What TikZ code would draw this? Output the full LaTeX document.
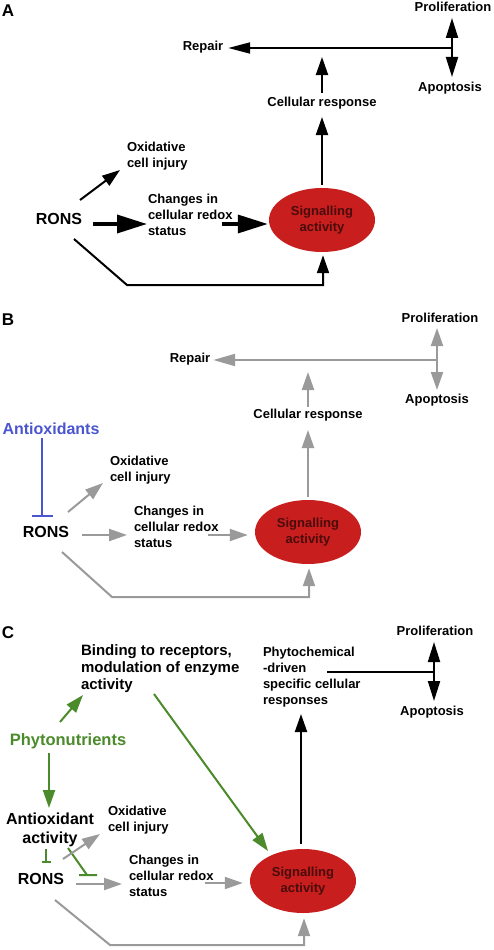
\documentclass[tikz,border=0pt]{standalone}
\usepackage{fontspec}
\setmainfont{Liberation Sans}
\usetikzlibrary{arrows.meta,calc,shapes.geometric}
\definecolor{sred}{HTML}{C81E1E}
\definecolor{sdark}{HTML}{4A0C0C}
\definecolor{sgray}{HTML}{9A9A9A}
\definecolor{sgreen}{HTML}{4B8B2B}
\definecolor{sblue}{HTML}{4B55D0}
\begin{document}
\begin{tikzpicture}[x=1pt,y=-1pt,
  txt/.style={inner sep=0pt, outer sep=0pt, font=\fontsize{13}{16}\selectfont\bfseries, align=left},
  big/.style={inner sep=0pt, outer sep=0pt, font=\fontsize{16}{19}\selectfont\bfseries, align=center},
  panel/.style={inner sep=0pt, font=\fontsize{17}{20}\selectfont\bfseries},
  sig/.style={ellipse, fill=sred, minimum width=106pt, minimum height=64pt, inner sep=0pt, text=sdark, font=\fontsize{13}{16}\selectfont\bfseries, align=center},
  blk/.style={draw=black, line width=2pt, -{Triangle[length=18pt,width=12pt]}},
  blkpa/.style={draw=black, line width=2pt, -{Triangle[length=20pt,width=12pt]}},
  blkthick/.style={draw=black, line width=3.5pt, -{Triangle[length=30pt,width=18pt]}},
  gry/.style={draw=sgray, line width=2pt, -{Triangle[length=18pt,width=12pt]}},
  grn/.style={draw=sgreen, line width=2pt, -{Triangle[length=18pt,width=12pt]}}
]
\useasboundingbox[fill=white] (0,0) rectangle (493,950);

% ---------------- Panel A ----------------
\node[panel] (lA) at (8,11) {A};
\node[big] (rA) at (59,219) {RONS};
\node[txt, anchor=west] (oxA) at (127,156) {Oxidative\\cell injury};
\node[txt, anchor=west] (chA) at (148,215) {Changes in\\cellular redox\\status};
\node[sig] (sA) at (322,220) {Signalling\\activity};
\node[txt] (crA) at (322,103) {Cellular response};
\node[txt] (repA) at (203,47) {Repair};
\node[txt] (prA) at (453,7) {Proliferation};
\node[txt] (apA) at (450,88) {Apoptosis};
\coordinate (jA) at (452,48);
\coordinate (cA) at (127,285);

\draw[blk] ($(rA)+(21,-19)$) -- ($(oxA.west)+(-7,14)$);
\draw[blkthick] ($(rA)+(34,5)$) -- ($(chA.west)+(-1,9)$);
\draw[blkthick] ($(chA.west)+(74,9)$) -- ($(sA.west)+(-1,4)$);
\draw[blk] ($(sA.north)+(0,-3)$) -- ($(crA)+(0,14)$);
\draw[blk] ($(crA)+(0,-10)$) -- ($(crA)+(0,-46)$);
\draw[draw=black, line width=2pt, -{Triangle[length=22pt,width=11pt]}] (jA) -- ($(repA.east)+(5,1)$);
\draw[blkpa] (jA) -- ($(prA)+(-1,11)$);
\draw[blkpa] (jA) -- ($(apA)+(2,-11)$);
\draw[blk] ($(rA)+(15,20)$) -- (cA) -| ($(sA.south)+(1,3)$);

% ---------------- Panel B ----------------
\node[panel] (lB) at (8,320) {B};
\node[big, text=sblue] (antiB) at (51,429) {Antioxidants};
\node[big] (rB) at (46,532) {RONS};
\node[txt, anchor=west] (oxB) at (110,470) {Oxidative\\cell injury};
\node[txt, anchor=west] (chB) at (134,527) {Changes in\\cellular redox\\status};
\node[sig] (sB) at (308,532) {Signalling\\activity};
\node[txt] (crB) at (308,415) {Cellular response};
\node[txt] (repB) at (190,359) {Repair};
\node[txt] (prB) at (440,318) {Proliferation};
\node[txt] (apB) at (437,400) {Apoptosis};
\coordinate (jB) at (437,360);
\coordinate (cB) at (112,597);

\draw[draw=sblue, line width=2pt, -{Bar[width=21pt]}] ($(antiB)+(-9,9)$) -- ($(rB)+(-4,-15)$);
\draw[gry] ($(rB)+(22,-20)$) -- ($(oxB.west)+(-7,13)$);
\draw[gry] ($(rB)+(36,3)$) -- ($(chB.west)+(-7,8)$);
\draw[gry] ($(chB.west)+(74,8)$) -- ($(sB.west)+(-7,3)$);
\draw[gry] ($(sB.north)+(0,-3)$) -- ($(crB)+(0,15)$);
\draw[gry] ($(crB)+(0,-8)$) -- ($(crB)+(0,-43)$);
\draw[draw=sgray, line width=2pt, -{Triangle[length=22pt,width=12pt]}] (jB) -- ($(repB.east)+(3,1)$);
\draw[gry] (jB) -- ($(prB)+(-3,10)$);
\draw[gry] (jB) -- ($(apB)+(0,-10)$);
\draw[gry] ($(rB)+(16,20)$) -- (cB) -| ($(sB.south)+(1,4)$);

% ---------------- Panel C ----------------
\node[panel] (lC) at (8,633) {C};
\node[txt, font=\fontsize{15}{17}\selectfont\bfseries, anchor=west] (bindC) at (81,669) {Binding to receptors,\\modulation of enzyme\\activity};
\node[big, text=sgreen, font=\fontsize{16.5}{19}\selectfont\bfseries] (phyC) at (68,741) {Phytonutrients};
\node[big] (antC) at (50,830) {Antioxidant\\activity};
\node[big] (rC) at (41,879) {RONS};
\node[txt, anchor=west] (oxC) at (108,820) {Oxidative\\cell injury};
\node[txt, anchor=west] (chC) at (129,876) {Changes in\\cellular redox\\status};
\node[sig] (sC) at (303,881) {Signalling\\activity};
\node[txt, anchor=west] (phyD) at (263,677) {Phytochemical\\-driven\\specific cellular\\responses};
\node[txt] (prC) at (435,631) {Proliferation};
\node[txt] (apC) at (432,712) {Apoptosis};
\coordinate (jC) at (434,672);
\coordinate (cC) at (110,945);

\draw[grn] ($(phyC)+(-8,-19)$) -- ($(bindC.west)+(2,26)$);
\draw[grn] ($(phyC)+(-19,12)$) -- ($(antC)+(-1,-22)$);
\draw[draw=sgreen, line width=2pt, -{Bar[width=9pt]}] ($(antC)+(-4,19)$) -- ($(rC)+(5,-16)$);
\draw[draw=sgreen, line width=2pt] ($(antC)+(18,18)$) -- ($(rC)+(46,-4)$)
      ($(rC)+(38,-4)$) -- ($(rC)+(56,-4)$);
\draw[grn] ($(bindC.west)+(73,25)$) -- ($(sC)+(-35,-30)$);
\draw[blk] ($(sC.north)+(-2,-5)$) -- ($(phyD.west)+(38,37)$);
\draw[draw=black, line width=2pt] ($(phyD.west)+(64,-5)$) -- (jC);
\draw[blkpa] (jC) -- ($(prC)+(-1,11)$);
\draw[blkpa] (jC) -- ($(apC)+(2,-11)$);
\draw[gry] ($(rC)+(22,-20)$) -- ($(oxC.west)+(-8,14)$);
\draw[gry] ($(rC)+(35,5)$) -- ($(chC.west)+(-7,8)$);
\draw[gry] ($(chC.west)+(76,7)$) -- ($(sC.west)+(-7,2)$);
\draw[gry] ($(rC)+(14,21)$) -- (cC) -| ($(sC.south)+(1,5)$);
\end{tikzpicture}
\end{document}
